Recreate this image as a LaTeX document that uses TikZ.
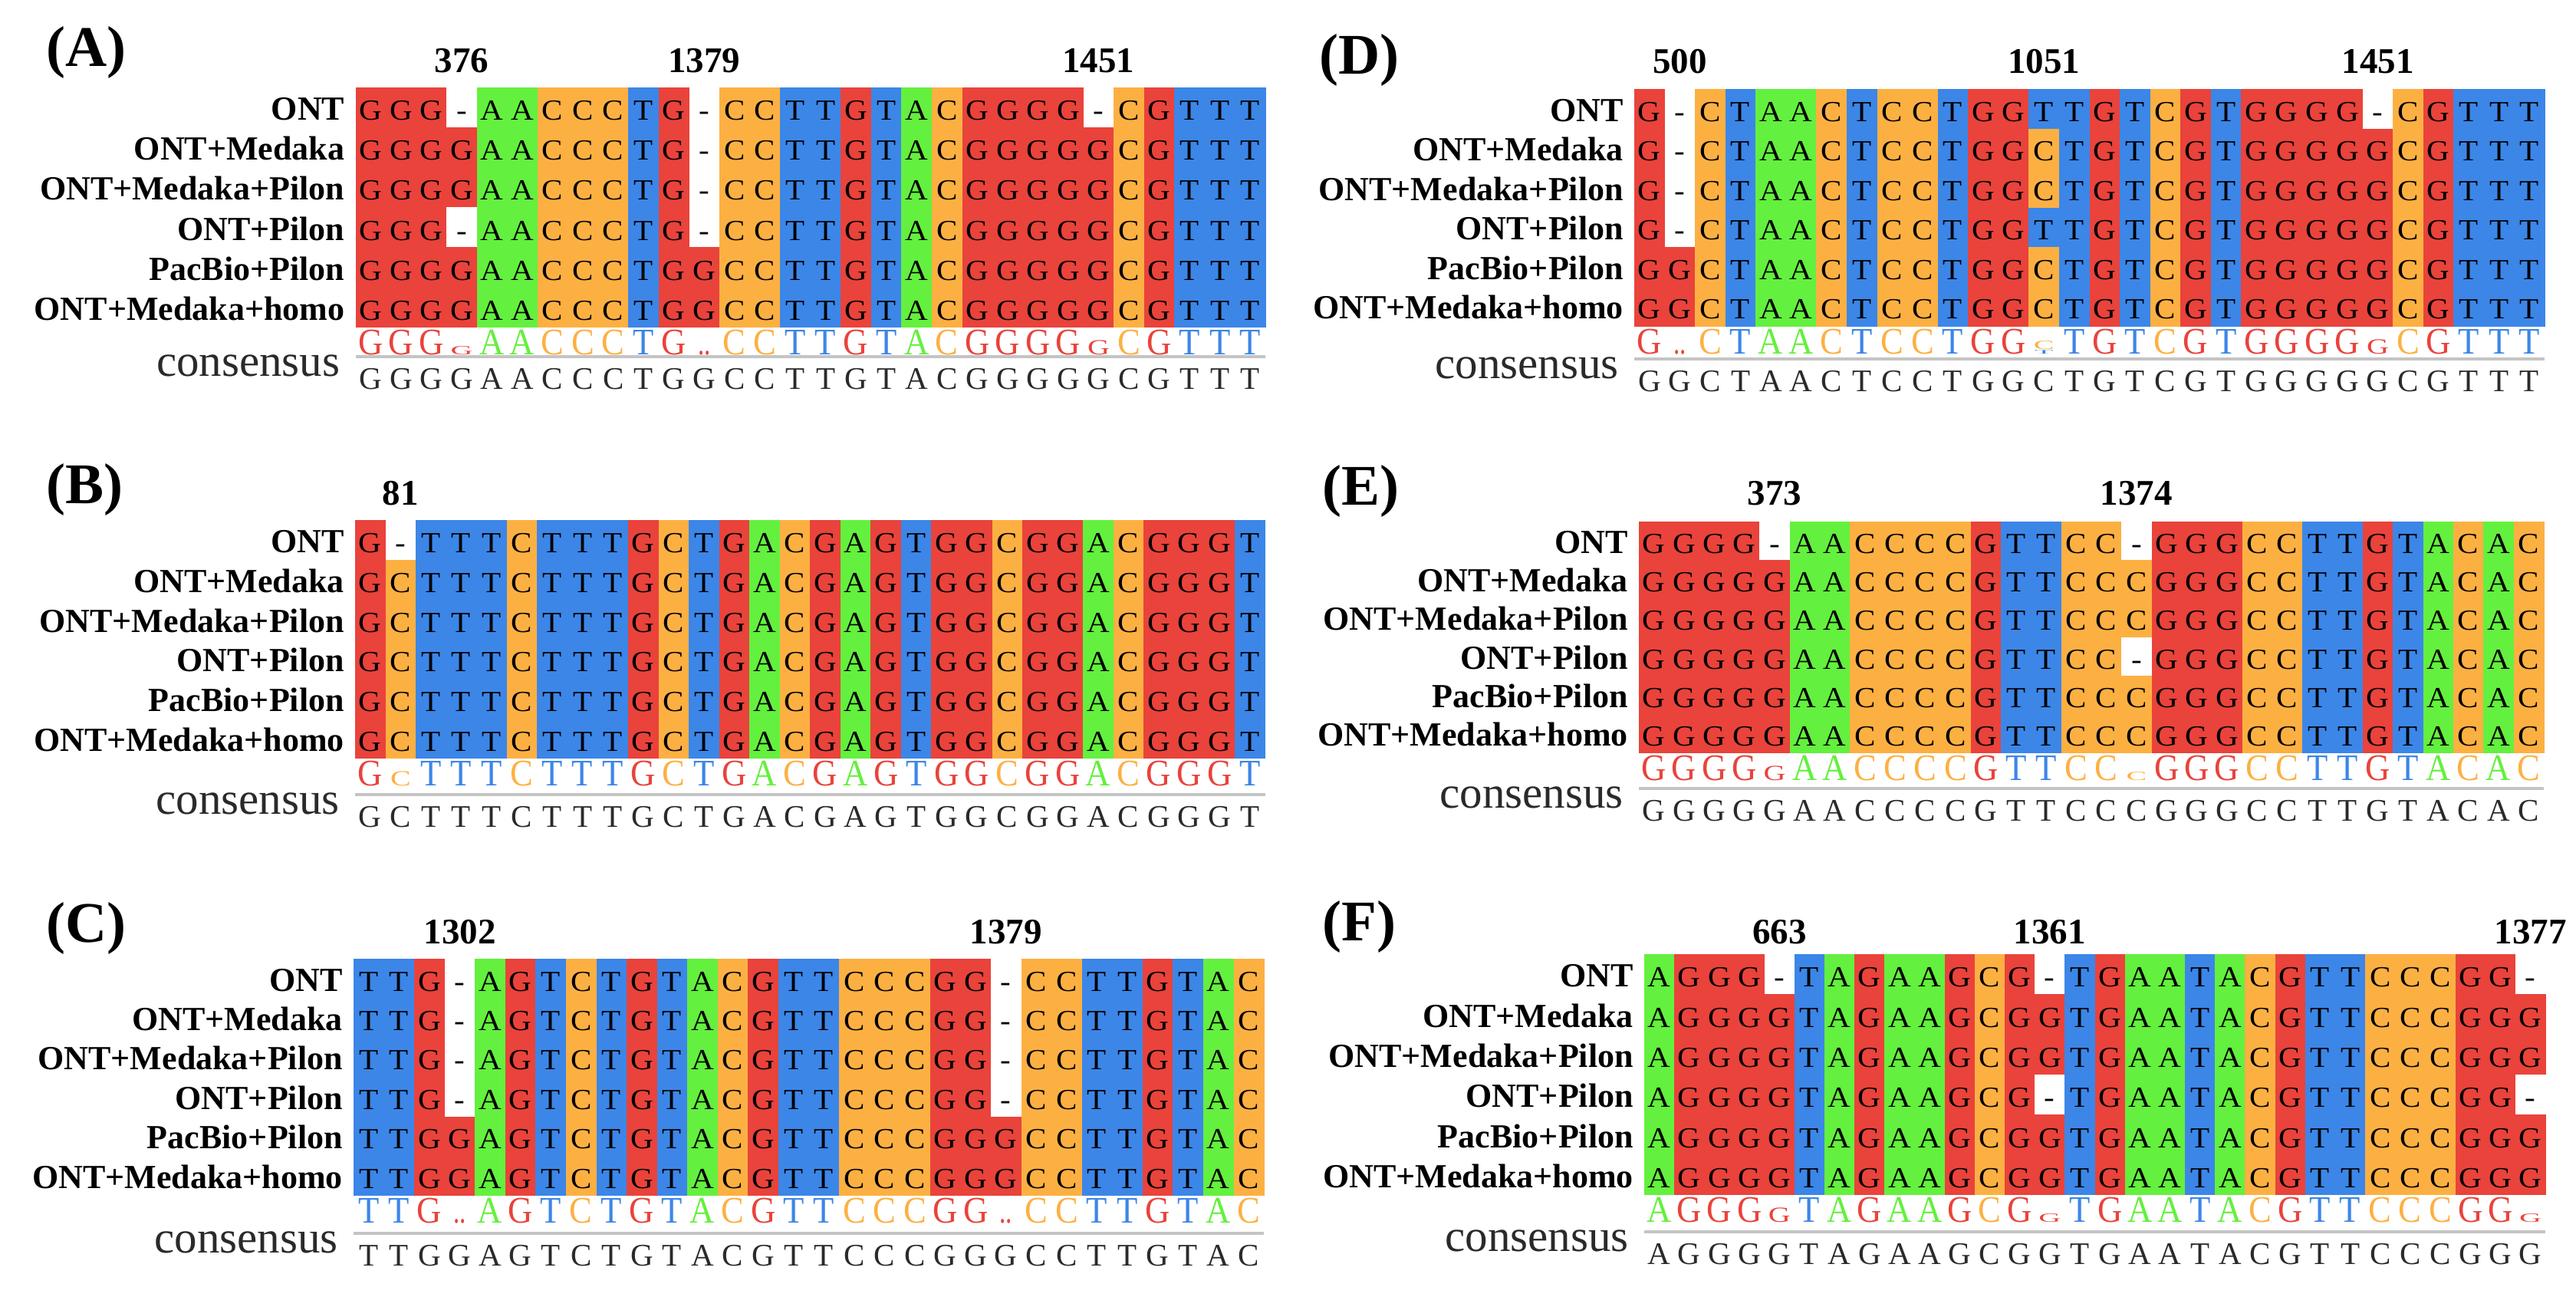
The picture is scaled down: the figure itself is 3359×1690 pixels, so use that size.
\documentclass[tikz,border=0pt]{standalone}
\usepackage{fontspec}
\setmainfont{Liberation Serif}
\usepackage{graphicx}
\definecolor{nG}{HTML}{E9433B}
\definecolor{nA}{HTML}{64F03E}
\definecolor{nC}{HTML}{FDB042}
\definecolor{nT}{HTML}{3C86E8}
\definecolor{lineg}{HTML}{C4C4C4}
\definecolor{constext}{HTML}{2A2A2A}
\def\fillG{nG}\def\fillA{nA}\def\fillC{nC}\def\fillT{nT}
\expandafter\def\csname fill-\endcsname{white}
\newcount\colidx
\def\defpanel#1#2#3#4#5#6{\def\pname{#1}\def\px{#2}\def\pw{#3}\def\py{#4}\def\ph{#5}\def\pline{#6}\pgfmathsetmacro\gb{#4+6*#5}}
% grid rows
\def\seqrow#1#2{\def\currow{#1}\colidx=0 \doseq#2\relax}
\def\doseq#1{\ifx#1\relax\else\drawcell#1\advance\colidx by 1 \expandafter\doseq\fi}
\def\drawcell#1{%
  \pgfmathsetmacro\cx{\px+\pw*\the\colidx}%
  \pgfmathsetmacro\cy{\py+\ph*\currow}%
  \edef\nname{\pname r\currow c\the\colidx}%
  \fill[\csname fill#1\endcsname] ({\cx},{\cy}) rectangle ++({\pw+0.6},{\ph+0.6});
  \node[seqlet] (\nname) at ({\cx+\pw/2},{\cy+0.82*\ph}) {\scalebox{1.08}[1]{#1}};}
% logo row
\def\logorow#1{\colidx=0 \dologo#1\relax}
\def\dologo#1{\ifx#1\relax\else\drawlogo#1\advance\colidx by 1 \expandafter\dologo\fi}
\def\drawlogo#1{\ifx#1.\else
  \pgfmathsetmacro\cx{\px+\pw*(\the\colidx+0.5)}%
  \edef\nname{\pname L\the\colidx}%
  \node[logolet,text=\csname fill#1\endcsname] (\nname) at ({\cx},{\gb+36}) {\scalebox{0.95}[1.04]{#1}};\fi}
\def\plogo#1#2#3#4{\pgfmathsetmacro\cx{\px+\pw*(#1+0.5)}%
  \node[logolet,text=\csname fill#2\endcsname] (\pname P#1#2) at ({\cx},{\gb+36-#4}) {\scalebox{0.85}[#3]{#2}};}
\def\pdots#1#2{\pgfmathsetmacro\cx{\px+\pw*(#1+0.5)}%
  \node[logolet,text=\csname fill#2\endcsname] (\pname D#1) at ({\cx},{\gb+36}) {\scalebox{0.7}[1]{..}};}
% consensus row
\def\consrow#1{\colidx=0 \docons#1\relax}
\def\docons#1{\ifx#1\relax\else\drawcons#1\advance\colidx by 1 \expandafter\docons\fi}
\def\drawcons#1{\pgfmathsetmacro\cx{\px+\pw*(\the\colidx+0.5)}%
  \edef\nname{\pname K\the\colidx}%
  \node[conslet] (\nname) at ({\cx},{\pline+42}) {#1};}
% labels
\def\rowlabels{%
  \foreach \i/\t in {0/ONT,1/ONT+Medaka,2/ONT+Medaka+Pilon,3/ONT+Pilon,4/PacBio+Pilon,5/ONT+Medaka+homo}{%
    \node[rowlab] (\pname lab\i) at ({\px-14},{\py+\ph*(\i+0.82)}) {\t};}%
  \node[conslab] (\pname conslab) at ({\px-20},{\pline+25}) {consensus};
  \draw[gline] ({\px},{\pline}) -- ({\px+30*\pw},{\pline});}
\def\posnum#1#2#3{\node[posnum] (\pname N#1) at ({\px+\pw*(#1+0.5)},{#3}) {#2};}
\tikzset{
  seqlet/.style={anchor=base,inner sep=0pt,text=black,font=\fontsize{38}{42}\selectfont},
  logolet/.style={anchor=base,inner sep=0pt,font=\fontsize{47}{50}\selectfont},
  conslet/.style={anchor=base,inner sep=0pt,text=constext,font=\fontsize{41}{44}\selectfont},
  rowlab/.style={anchor=base east,inner sep=0pt,font=\fontsize{44}{48}\selectfont\bfseries},
  conslab/.style={anchor=base east,inner sep=0pt,text=constext,font=\fontsize{59}{64}\selectfont},
  posnum/.style={anchor=base,inner sep=0pt,font=\fontsize{47}{50}\selectfont\bfseries},
  panellab/.style={anchor=base west,inner sep=0pt,font=\fontsize{75}{80}\selectfont\bfseries},
  gline/.style={draw=lineg,line width=3.5pt}
}
\begin{document}
\begin{tikzpicture}[x=1pt,y=-1pt]
\useasboundingbox[fill=white] (0,0) rectangle (3359,1690);
% ---------------- Panel A
\defpanel{A}{463.5}{39.55}{113.6}{52.2}{465}
\seqrow{0}{GGG-AACCCTG-CCTTGTACGGGG-CGTTT}
\seqrow{1}{GGGGAACCCTG-CCTTGTACGGGGGCGTTT}
\seqrow{2}{GGGGAACCCTG-CCTTGTACGGGGGCGTTT}
\seqrow{3}{GGG-AACCCTG-CCTTGTACGGGGGCGTTT}
\seqrow{4}{GGGGAACCCTGGCCTTGTACGGGGGCGTTT}
\seqrow{5}{GGGGAACCCTGGCCTTGTACGGGGGCGTTT}
\logorow{GGG.AACCCTG.CCTTGTACGGGG.CGTTT}
\plogo{3}{G}{0.35}{0}
\pdots{11}{G}
\plogo{24}{G}{0.6}{0}
\consrow{GGGGAACCCTGGCCTTGTACGGGGGCGTTT}
\rowlabels
\posnum{3}{376}{94.6}
\posnum{11}{1379}{94.6}
\posnum{24}{1451}{94.6}
\node[panellab] (labA) at (60,86) {(A)};
% ---------------- Panel B
\defpanel{B}{463}{39.55}{678}{51.8}{1036}
\seqrow{0}{G-TTTCTTTGCTGACGAGTGGCGGACGGGT}
\seqrow{1}{GCTTTCTTTGCTGACGAGTGGCGGACGGGT}
\seqrow{2}{GCTTTCTTTGCTGACGAGTGGCGGACGGGT}
\seqrow{3}{GCTTTCTTTGCTGACGAGTGGCGGACGGGT}
\seqrow{4}{GCTTTCTTTGCTGACGAGTGGCGGACGGGT}
\seqrow{5}{GCTTTCTTTGCTGACGAGTGGCGGACGGGT}
\logorow{G.TTTCTTTGCTGACGAGTGGCGGACGGGT}
\plogo{1}{C}{0.6}{0}
\consrow{GCTTTCTTTGCTGACGAGTGGCGGACGGGT}
\rowlabels
\posnum{1}{81}{658}
\node[panellab] (labB) at (60,656) {(B)};
% ---------------- Panel C
\defpanel{C}{461}{39.57}{1250}{51.4}{1608}
\seqrow{0}{TTG-AGTCTGTACGTTCCCGG-CCTTGTAC}
\seqrow{1}{TTG-AGTCTGTACGTTCCCGG-CCTTGTAC}
\seqrow{2}{TTG-AGTCTGTACGTTCCCGG-CCTTGTAC}
\seqrow{3}{TTG-AGTCTGTACGTTCCCGG-CCTTGTAC}
\seqrow{4}{TTGGAGTCTGTACGTTCCCGGGCCTTGTAC}
\seqrow{5}{TTGGAGTCTGTACGTTCCCGGGCCTTGTAC}
\logorow{TTG.AGTCTGTACGTTCCCGG.CCTTGTAC}
\pdots{3}{G}
\pdots{21}{G}
\consrow{TTGGAGTCTGTACGTTCCCGGGCCTTGTAC}
\rowlabels
\posnum{3}{1302}{1230}
\posnum{21}{1379}{1230}
\node[panellab] (labC) at (60,1228) {(C)};
% ---------------- Panel D
\defpanel{D}{2131}{39.57}{116}{51.5}{468}
\seqrow{0}{G-CTAACTCCTGGTTGTCGTGGGG-CGTTT}
\seqrow{1}{G-CTAACTCCTGGCTGTCGTGGGGGCGTTT}
\seqrow{2}{G-CTAACTCCTGGCTGTCGTGGGGGCGTTT}
\seqrow{3}{G-CTAACTCCTGGTTGTCGTGGGGGCGTTT}
\seqrow{4}{GGCTAACTCCTGGCTGTCGTGGGGGCGTTT}
\seqrow{5}{GGCTAACTCCTGGCTGTCGTGGGGGCGTTT}
\logorow{G.CTAACTCCTGG.TGTCGTGGGG.CGTTT}
\pdots{1}{G}
\plogo{13}{C}{0.35}{6}
\plogo{13}{T}{0.15}{0}
\plogo{24}{G}{0.6}{0}
\consrow{GGCTAACTCCTGGCTGTCGTGGGGGCGTTT}
\rowlabels
\posnum{1}{500}{95}
\posnum{13}{1051}{95}
\posnum{24}{1451}{95}
\node[panellab] (labD) at (1720,96) {(D)};
% ---------------- Panel E
\defpanel{E}{2137}{39.33}{680}{50.3}{1028}
\seqrow{0}{GGGG-AACCCCGTTCC-GGGCCTTGTACAC}
\seqrow{1}{GGGGGAACCCCGTTCCCGGGCCTTGTACAC}
\seqrow{2}{GGGGGAACCCCGTTCCCGGGCCTTGTACAC}
\seqrow{3}{GGGGGAACCCCGTTCC-GGGCCTTGTACAC}
\seqrow{4}{GGGGGAACCCCGTTCCCGGGCCTTGTACAC}
\seqrow{5}{GGGGGAACCCCGTTCCCGGGCCTTGTACAC}
\logorow{GGGG.AACCCCGTTCC.GGGCCTTGTACAC}
\plogo{4}{G}{0.6}{0}
\plogo{16}{C}{0.35}{0}
\consrow{GGGGGAACCCCGTTCCCGGGCCTTGTACAC}
\rowlabels
\posnum{4}{373}{658}
\posnum{16}{1374}{658}
\node[panellab] (labE) at (1724,658) {(E)};
% ---------------- Panel F
\defpanel{F}{2144}{39.17}{1244}{52.3}{1606}
\seqrow{0}{AGGG-TAGAAGCG-TGAATACGTTCCCGG-}
\seqrow{1}{AGGGGTAGAAGCGGTGAATACGTTCCCGGG}
\seqrow{2}{AGGGGTAGAAGCGGTGAATACGTTCCCGGG}
\seqrow{3}{AGGGGTAGAAGCG-TGAATACGTTCCCGG-}
\seqrow{4}{AGGGGTAGAAGCGGTGAATACGTTCCCGGG}
\seqrow{5}{AGGGGTAGAAGCGGTGAATACGTTCCCGGG}
\logorow{AGGG.TAGAAGCG.TGAATACGTTCCCGG.}
\plogo{4}{G}{0.6}{0}
\plogo{13}{G}{0.35}{0}
\plogo{29}{G}{0.35}{0}
\consrow{AGGGGTAGAAGCGGTGAATACGTTCCCGGG}
\rowlabels
\posnum{4}{663}{1230}
\posnum{13}{1361}{1230}
\posnum{29}{1377}{1230}
\node[panellab] (labF) at (1724,1226) {(F)};
\end{tikzpicture}
\end{document}
